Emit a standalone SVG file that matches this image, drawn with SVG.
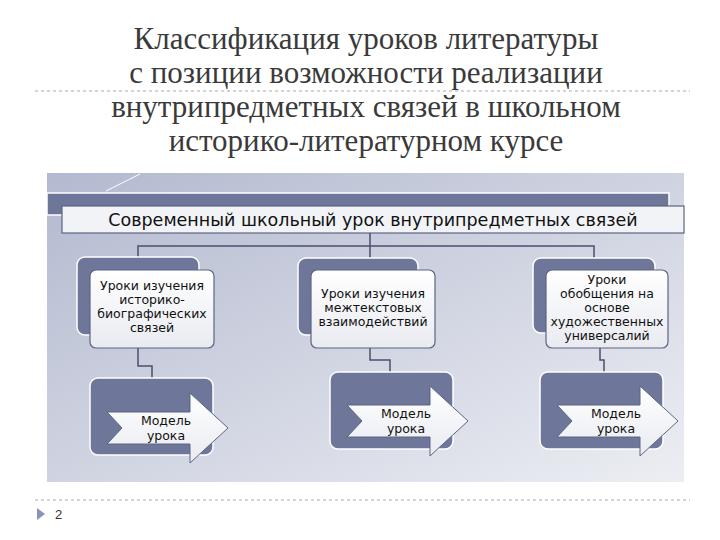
<svg xmlns="http://www.w3.org/2000/svg" width="720" height="540" viewBox="0 0 720 540">
<defs>
<linearGradient id="bg" x1="0" y1="0" x2="1" y2="1"><stop offset="0" stop-color="#b3b9cf"/><stop offset="1" stop-color="#eceef3"/></linearGradient>
<linearGradient id="lt" x1="0" y1="0" x2="0" y2="1"><stop offset="0" stop-color="#ffffff"/><stop offset="1" stop-color="#e9ebf1"/></linearGradient>
</defs>
<style>
.t{font-family:"Liberation Serif",serif;font-size:31px;fill:#3a3a3a;text-anchor:middle}
.s{font-family:"DejaVu Sans",sans-serif;font-size:12.5px;fill:#111;text-anchor:middle}
.dk{fill:#6e7699;stroke:#fff;stroke-width:1.5}
.lb{fill:url(#lt);stroke:#5d6484;stroke-width:1.2}
.ar{fill:url(#lt);stroke:#5d6484;stroke-width:1}
.c{fill:none;stroke:#4a5070;stroke-width:1.5}
.dash{stroke:#aaa;stroke-dasharray:3,3;stroke-width:1}
</style>
<rect width="720" height="540" fill="#fff"/>
<line class="dash" x1="35" y1="91" x2="690" y2="91"/>
<line class="dash" x1="35" y1="500" x2="690" y2="500"/>
<text class="t" x="366" y="49">Классификация уроков литературы</text>
<text class="t" x="366" y="83">с позиции возможности реализации</text>
<text class="t" x="366" y="117">внутрипредметных связей в школьном</text>
<text class="t" x="366" y="151">историко-литературном курсе</text>
<rect x="47" y="173" width="637" height="309" fill="url(#bg)"/>
<line x1="106" y1="191" x2="140" y2="174" stroke="#fff" stroke-width="1"/>
<g id="root">
<rect x="47" y="193" width="622" height="22" fill="#6e7699" stroke="#fff" stroke-width="1.5"/>
<rect x="62" y="206" width="622" height="27" fill="#f2f3f7" stroke="#5d6484" stroke-width="1.2"/>
<text x="373" y="226" font-family="DejaVu Sans,sans-serif" font-size="17.5" fill="#111" text-anchor="middle">Современный школьный урок внутрипредметных связей</text>
</g>
<g id="connectors">
<path class="c" d="M370 233 V246 M138 258 V246 H594 V258 M370 246 V258"/>
<path class="c" d="M138 348 V366 H152 V378"/>
<path class="c" d="M370 348 V360 H390 V372"/>
<path class="c" d="M600 348 V360 H604 V372"/>
</g>
<g id="n1">
<rect class="dk" x="77" y="257" width="122" height="78" rx="8"/>
<rect class="lb" x="90" y="270" width="124" height="78" rx="6"/>
<text class="s" x="152" y="290">Уроки изучения</text>
<text class="s" x="152" y="304">историко-</text>
<text class="s" x="152" y="318">биографических</text>
<text class="s" x="152" y="332">связей</text>
</g>
<g id="n2">
<rect class="dk" x="298" y="258" width="120" height="77" rx="8"/>
<rect class="lb" x="311" y="270" width="124" height="78" rx="6"/>
<text class="s" x="373" y="298">Уроки изучения</text>
<text class="s" x="373" y="312">межтекстовых</text>
<text class="s" x="373" y="326">взаимодействий</text>
</g>
<g id="n3">
<rect class="dk" x="533" y="258" width="122" height="75" rx="8"/>
<rect class="lb" x="546" y="270" width="122" height="78" rx="6"/>
<text class="s" x="607" y="284">Уроки</text>
<text class="s" x="607" y="298">обобщения на</text>
<text class="s" x="607" y="312">основе</text>
<text class="s" x="607" y="326">художественных</text>
<text class="s" x="607" y="340">универсалий</text>
</g>
<g id="m1">
<rect class="dk" x="90" y="378" width="123" height="77" rx="8"/>
<path class="ar" d="M107 412 H190 V393 L228 428 L190 463 V444 H107 L122 428 Z"/>
<text class="s" x="166" y="425">Модель</text>
<text class="s" x="166" y="440">урока</text>
</g>
<g id="m2">
<rect class="dk" x="330" y="372" width="123" height="77" rx="8"/>
<path class="ar" d="M347 405 H430 V386 L468 421 L430 456 V437 H347 L362 421 Z"/>
<text class="s" x="406" y="418">Модель</text>
<text class="s" x="406" y="433">урока</text>
</g>
<g id="m3">
<rect class="dk" x="540" y="372" width="123" height="77" rx="8"/>
<path class="ar" d="M557 405 H640 V386 L678 421 L640 456 V437 H557 L572 421 Z"/>
<text class="s" x="616" y="418">Модель</text>
<text class="s" x="616" y="433">урока</text>
</g>
<path d="M37 508 L45 514 L37 520 Z" fill="#8a95b5"/>
<text x="55" y="519" font-family="Liberation Sans,Arial,sans-serif" font-size="13" fill="#333">2</text>
</svg>
